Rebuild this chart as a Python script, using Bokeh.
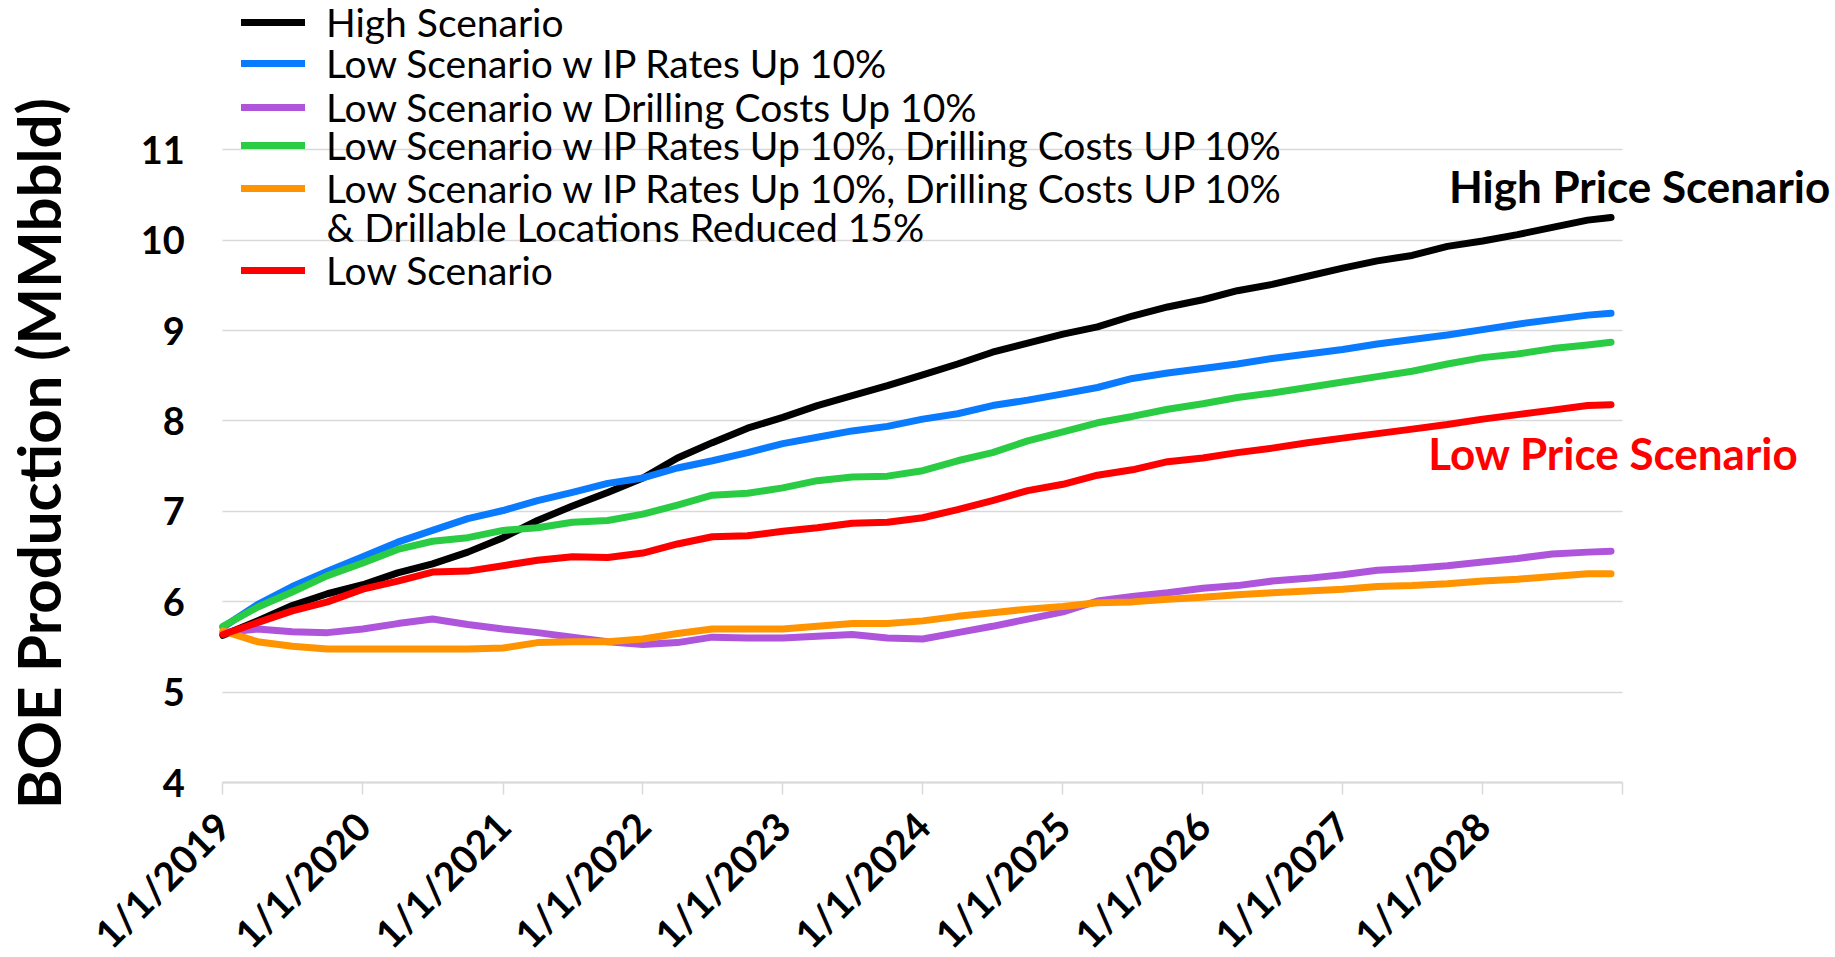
import math
import pandas as pd
from bokeh.plotting import figure
from bokeh.models import Range1d, FixedTicker, Legend, LegendItem, Label
from bokeh.embed import file_html
from bokeh.resources import INLINE

# ---------------- data (quarterly readings, MMbbl/d) ----------------
dates = [d.strftime("%Y-%m-%d") for d in pd.date_range("2019-01-01", "2028-10-01", freq="3MS")] + ["2028-12-01"]

high = [5.63, 5.79, 5.96, 6.09, 6.19, 6.32, 6.42, 6.55, 6.71, 6.90, 7.06, 7.21, 7.37, 7.59, 7.76, 7.92,
        8.04, 8.17, 8.28, 8.39, 8.51, 8.63, 8.76, 8.86, 8.96, 9.04, 9.16, 9.26, 9.34, 9.44, 9.51, 9.60,
        9.69, 9.77, 9.83, 9.93, 9.99, 10.06, 10.14, 10.22, 10.25]
low_ip = [5.72, 5.97, 6.17, 6.34, 6.50, 6.66, 6.79, 6.92, 7.01, 7.12, 7.21, 7.31, 7.37, 7.48, 7.56, 7.65,
          7.75, 7.82, 7.89, 7.94, 8.02, 8.08, 8.17, 8.23, 8.30, 8.37, 8.47, 8.53, 8.58, 8.63, 8.69, 8.74,
          8.79, 8.85, 8.90, 8.95, 9.01, 9.07, 9.12, 9.17, 9.19]
low_dc = [5.66, 5.70, 5.67, 5.66, 5.70, 5.76, 5.81, 5.75, 5.70, 5.66, 5.61, 5.56, 5.53, 5.55, 5.61, 5.60,
          5.60, 5.62, 5.64, 5.60, 5.59, 5.66, 5.73, 5.81, 5.89, 6.01, 6.06, 6.10, 6.15, 6.18, 6.23, 6.26,
          6.30, 6.35, 6.37, 6.40, 6.44, 6.48, 6.53, 6.55, 6.56]
low_ip_dc = [5.73, 5.94, 6.11, 6.29, 6.43, 6.58, 6.67, 6.71, 6.79, 6.82, 6.88, 6.90, 6.97, 7.07, 7.18, 7.20,
             7.26, 7.34, 7.38, 7.39, 7.45, 7.56, 7.65, 7.78, 7.88, 7.98, 8.05, 8.13, 8.19, 8.26, 8.31, 8.37,
             8.43, 8.49, 8.55, 8.63, 8.70, 8.74, 8.80, 8.84, 8.87]
low_ip_dc_loc = [5.68, 5.56, 5.51, 5.48, 5.48, 5.48, 5.48, 5.48, 5.49, 5.55, 5.56, 5.56, 5.59, 5.65, 5.70, 5.70,
                 5.70, 5.73, 5.76, 5.76, 5.79, 5.84, 5.88, 5.92, 5.95, 5.99, 6.00, 6.03, 6.05, 6.08, 6.10, 6.12,
                 6.14, 6.17, 6.18, 6.20, 6.23, 6.25, 6.28, 6.31, 6.31]
low = [5.64, 5.77, 5.90, 6.00, 6.14, 6.23, 6.33, 6.34, 6.40, 6.46, 6.50, 6.49, 6.54, 6.64, 6.72, 6.73,
       6.78, 6.82, 6.87, 6.88, 6.93, 7.02, 7.12, 7.23, 7.30, 7.40, 7.46, 7.55, 7.59, 7.65, 7.70, 7.76,
       7.81, 7.86, 7.91, 7.96, 8.02, 8.07, 8.12, 8.17, 8.18]

series_names = [
    "High Scenario",
    "Low Scenario w IP Rates Up 10%",
    "Low Scenario w Drilling Costs Up 10%",
    "Low Scenario w IP Rates Up 10%, Drilling Costs UP 10%",
    "Low Scenario w IP Rates Up 10%, Drilling Costs UP 10%\n& Drillable Locations Reduced 15%",
    "Low Scenario",
]
series_values = [high, low_ip, low_dc, low_ip_dc, low_ip_dc_loc, low]
series_colors = ["#000000", "#0A7AFF", "#AE55DC", "#2ACC44", "#FF9400", "#FF0000"]

tick_dates = ["%d-01-01" % y for y in range(2019, 2030)]
tick_labels = ["1/1/%d" % y for y in range(2019, 2029)] + [""]
y_ticks = [4, 5, 6, 7, 8, 9, 10, 11]
y_title = "BOE Production (MMbbld)"
note_high = "High Price Scenario"
note_low = "Low Price Scenario"


def to_ms(ds):
    t = pd.to_datetime(pd.Series(ds))
    return [float(v) for v in ((t - pd.Timestamp("1970-01-01")) // pd.Timedelta(milliseconds=1))]


x = to_ms(dates)
tick_ms = to_ms(tick_dates)

# ---------------- layout geometry (canvas px) ----------------
W, H = 1835, 957
AX_LEFT, AX_W = 222.4, 1400.0      # canvas px of 1/1/2019 and axis length
Y4, PX_PER_UNIT = 782.3, 90.46     # canvas px of value 4 and px per unit
t0, t1 = tick_ms[0], tick_ms[-1]
ms_px = (t1 - t0) / AX_W
x_range = Range1d(t0 - AX_LEFT * ms_px, t0 + (W - AX_LEFT) * ms_px)
y_range = Range1d(4 - (H - Y4) / PX_PER_UNIT, 4 + Y4 / PX_PER_UNIT)

p = figure(width=W, height=H, output_backend="svg", toolbar_location=None,
           x_range=x_range, y_range=y_range,
           min_border_left=0, min_border_right=0, min_border_top=0, min_border_bottom=0)
p.outline_line_color = None
p.background_fill_color = "white"
p.border_fill_color = "white"

# grid
p.xgrid.grid_line_color = None
grid = p.ygrid[0]
grid.ticker = FixedTicker(ticks=y_ticks)
grid.grid_line_color = "#D9D9D9"
grid.grid_line_width = 1.5
if "cross_bounds" in grid.properties():
    grid.cross_bounds = (t0, t1)
else:
    grid.visible = False
    p.segment(x0=[t0] * len(y_ticks), x1=[t1] * len(y_ticks), y0=y_ticks, y1=y_ticks,
              line_color="#D9D9D9", line_width=1.5, level="underlay")

# x axis
xa = p.xaxis[0]
xa.fixed_location = 4
xa.bounds = (t0, t1)
xa.ticker = FixedTicker(ticks=tick_ms)
xa.major_label_overrides = {t: l for t, l in zip(tick_ms, tick_labels)}
xa.major_label_orientation = math.pi / 4
xa.major_label_text_font = "Lato"
xa.major_label_text_font_style = "bold"
xa.major_label_text_font_size = "39px"
xa.major_label_text_color = "black"
xa.major_label_standoff = 24
xa.axis_line_color = "#D9D9D9"
xa.axis_line_width = 2
xa.major_tick_line_color = "#D9D9D9"
xa.major_tick_line_width = 1.5
xa.major_tick_out = 12
xa.major_tick_in = 0
xa.minor_tick_line_color = None

# y axis
ya = p.yaxis[0]
ya.fixed_location = t0
ya.bounds = (4, 11)
ya.ticker = FixedTicker(ticks=y_ticks)
ya.axis_line_color = None
ya.major_tick_line_color = None
ya.minor_tick_line_color = None
ya.major_tick_out = 0
ya.major_tick_in = 0
ya.major_label_text_font = "Lato"
ya.major_label_text_font_style = "bold"
ya.major_label_text_font_size = "38px"
ya.major_label_text_color = "black"
ya.major_label_standoff = 38

p.add_layout(Label(x=37, y=H - 453, x_units="screen", y_units="screen", text=y_title, angle=math.pi / 2,
                   text_font="Lato", text_font_style="bold", text_font_size="60px", text_color="black",
                   text_align="center", text_baseline="middle"))

renderers = []
for name, vals, col in zip(series_names, series_values, series_colors):
    r = p.line(x, vals, line_color=col, line_width=7, line_cap="round", line_join="round")
    renderers.append(r)

# legend: one row per series, placed like the original's
row_centers = [21.7, 63.3, 107.3, 145, 188, 270]   # canvas px (row middle)
ROW_H = 50
for name, r, c in zip(series_names, renderers, row_centers):
    first = name.split("\n")[0]
    lg = Legend(items=[LegendItem(label=first, renderers=[r])], location=(241, H - (c + ROW_H / 2)))
    lg.label_text_font = "Lato"
    lg.label_text_font_size = "39px"
    lg.label_text_color = "black"
    lg.label_height = ROW_H
    lg.glyph_height = ROW_H
    lg.glyph_width = 64
    lg.label_standoff = 21
    lg.padding = 0
    lg.margin = 0
    lg.spacing = 0
    lg.border_line_color = None
    lg.background_fill_alpha = 0
    p.add_layout(lg, "center")
    if "\n" in name:
        p.add_layout(Label(x=326, y=H - 226, x_units="screen", y_units="screen", text=name.split("\n")[1],
                           text_font="Lato", text_font_size="39px", text_color="black",
                           text_align="left", text_baseline="middle"))

hx = to_ms(["2027-10-05", "2027-08-12"])
p.add_layout(Label(x=hx[0], y=10.6, text=note_high, text_font="Lato", text_font_style="bold",
                   text_font_size="44px", text_color="black", text_baseline="middle", text_align="left"))
p.add_layout(Label(x=hx[1], y=7.65, text=note_low, text_font="Lato", text_font_style="bold",
                   text_font_size="44px", text_color="#FF0000", text_baseline="middle", text_align="left"))

open("out.html", "w").write(file_html(p, INLINE))
